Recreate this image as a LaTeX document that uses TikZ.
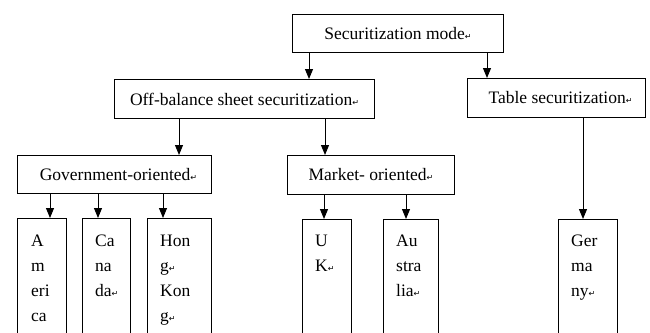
\documentclass[tikz,border=0pt]{standalone}
\usepackage{fontspec}
\setmainfont{Liberation Serif}
\newfontfamily\markfont{DejaVu Sans}
\usetikzlibrary{arrows.meta}
\newcommand{\retmark}{{\markfont\fontsize{8}{8}\selectfont ↵}}
\begin{document}
\begin{tikzpicture}[x=1pt,y=-1pt,
  box/.style={draw, line width=1pt, inner sep=0pt, anchor=north west, font=\fontsize{17.5}{20}\selectfont},
  leaf/.style={draw, line width=1pt, inner sep=0pt, anchor=north west, minimum height=122pt},
  leaftxt/.style={inner sep=0pt, anchor=north west, align=left, font=\fontsize{17.5}{25}\selectfont},
  arr/.style={line width=1pt, -{Triangle[width=8pt,length=10pt]}}]
\useasboundingbox (0,0) rectangle (650,332);
\clip (0,0) rectangle (650,332);
% top level boxes
\node[box, minimum width=211pt, minimum height=38pt] (sec) at (292,14) {Securitization mode\retmark};
\node[box, minimum width=260pt, minimum height=39pt] (off) at (114,79) {Off-balance sheet securitization\retmark};
\node[box, minimum width=178pt, minimum height=39pt] (tab) at (467,78) {\hspace{8pt}Table securitization\retmark};
\node[box, minimum width=194pt, minimum height=38pt] (gov) at (17,155) {\hspace{8pt}Government-oriented\retmark};
\node[box, minimum width=167pt, minimum height=39pt] (mkt) at (287,155) {Market- oriented\retmark};
% leaves
\node[leaf, minimum width=49pt] (am) at (17,218) {};
\node[leaf, minimum width=48pt] (ca) at (82,218) {};
\node[leaf, minimum width=64pt] (hk) at (147,218) {};
\node[leaf, minimum width=49pt] (uk) at (302,219) {};
\node[leaf, minimum width=55pt] (au) at (383,219) {};
\node[leaf, minimum width=59pt] (de) at (558,219) {};
\node[leaftxt] (amt) at ([xshift=14pt,yshift=-17pt]am.north west) {A\\m\\eri\\ca};
\node[leaftxt] (cat) at ([xshift=13pt,yshift=-17pt]ca.north west) {Ca\\na\\da\retmark};
\node[leaftxt] (hkt) at ([xshift=13pt,yshift=-17pt]hk.north west) {Hon\\g\retmark\\Kon\\g\retmark};
\node[leaftxt] (ukt) at ([xshift=13pt,yshift=-16pt]uk.north west) {U\\K\retmark};
\node[leaftxt] (aut) at ([xshift=13pt,yshift=-16pt]au.north west) {Au\\stra\\lia\retmark};
\node[leaftxt] (det) at ([xshift=13pt,yshift=-16pt]de.north west) {Ger\\ma\\ny\retmark};
% arrows
\draw[arr] (sec.south -| 309,0) -- (off.north -| 309,0);
\draw[arr] (sec.south -| 487,0) -- (tab.north -| 487,0);
\draw[arr] (off.south -| 179,0) -- (gov.north -| 179,0);
\draw[arr] (off.south -| 325,0) -- (mkt.north -| 325,0);
\draw[arr] (gov.south -| 50,0) -- (am.north -| 50,0);
\draw[arr] (gov.south -| 98,0) -- (ca.north -| 98,0);
\draw[arr] (gov.south -| 163,0) -- (hk.north -| 163,0);
\draw[arr] (mkt.south -| 324,0) -- (uk.north -| 324,0);
\draw[arr] (mkt.south -| 406,0) -- (au.north -| 406,0);
\draw[arr] (tab.south -| 583,0) -- (de.north -| 583,0);
\end{tikzpicture}
\end{document}
